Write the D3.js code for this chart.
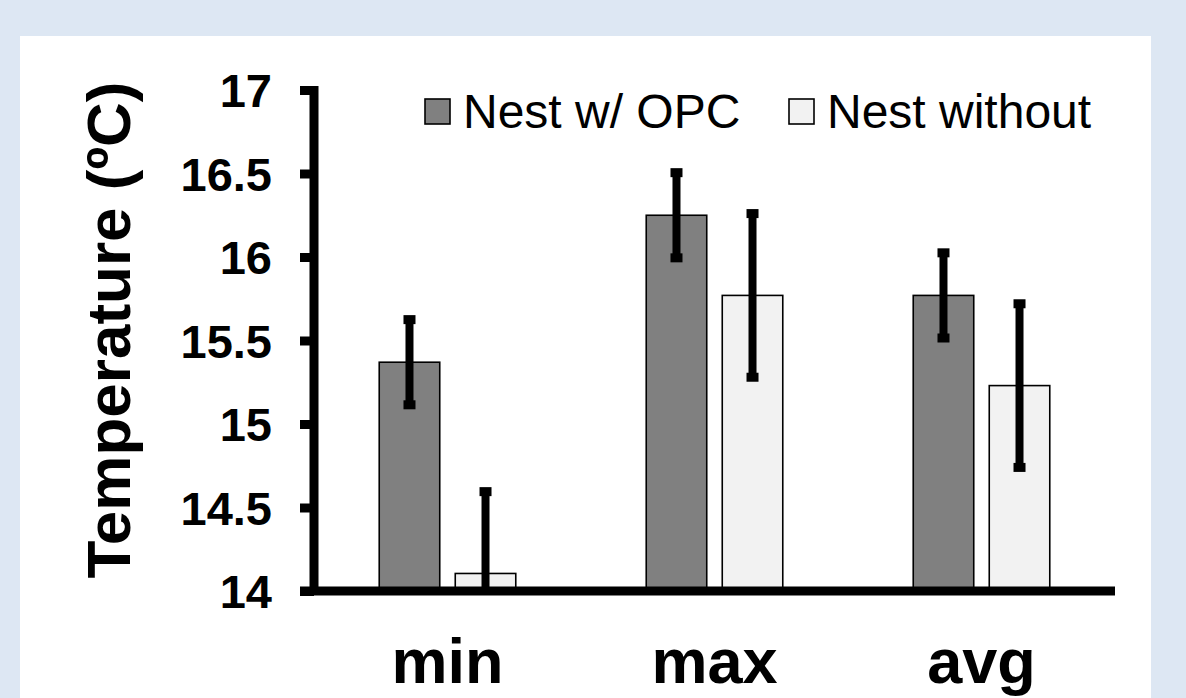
<!DOCTYPE html>
<html>
<head>
<meta charset="utf-8">
<script src="https://cdn.jsdelivr.net/npm/d3@7"></script>
<style>
  body { margin: 0; background: #dde7f3; }
  svg { display: block; font-family: "Liberation Sans", Arial, sans-serif; }
</style>
</head>
<body>
<svg id="chart" width="1186" height="698"></svg>
<script>
var categories = ['min', 'max', 'avg'];
var seriesNames = ['Nest w/ OPC', 'Nest without'];
var opcMeans = [15.37, 16.25, 15.77];
var opcErr = [0.255, 0.255, 0.255];
var withoutMeans = [14.105, 15.77, 15.23];
var withoutErr = [0.49, 0.49, 0.49];
var yTicks = [14, 14.5, 15, 15.5, 16, 16.5, 17];
var colors = ['#808080', '#f2f2f2'];

var svg = d3.select('#chart');

// white panel on the blue slide
svg.append('rect')
  .attr('x', 20).attr('y', 36)
  .attr('width', 1131).attr('height', 700)
  .attr('fill', '#fff');

var y = d3.scaleLinear().domain([14, 17]).range([591, 90]);
var x = d3.scaleBand().domain(categories).range([314, 1115]);
var xs = d3.scaleBand().domain(seriesNames).range([0, x.bandwidth()])
  .paddingInner(0.204).paddingOuter(0.858);

var data = [];
categories.forEach(function(c, i) {
  data.push({cat: c, s: seriesNames[0], v: opcMeans[i], e: opcErr[i], col: colors[0]});
  data.push({cat: c, s: seriesNames[1], v: withoutMeans[i], e: withoutErr[i], col: colors[1]});
});

svg.append('clipPath').attr('id', 'plot')
  .append('rect').attr('x', 300).attr('y', 0).attr('width', 820).attr('height', y(14));

// bars
svg.append('g').selectAll('rect').data(data).enter().append('rect')
  .attr('x', function(d) { return x(d.cat) + xs(d.s); })
  .attr('y', function(d) { return y(d.v); })
  .attr('width', xs.bandwidth())
  .attr('height', function(d) { return y(14) - y(d.v); })
  .attr('fill', function(d) { return d.col; })
  .attr('stroke', '#000')
  .attr('stroke-width', 1.6);

// error bars
var eg = svg.append('g').attr('clip-path', 'url(#plot)');
data.forEach(function(d) {
  var cx = x(d.cat) + xs(d.s) + xs.bandwidth() / 2;
  eg.append('line')
    .attr('x1', cx).attr('x2', cx)
    .attr('y1', y(d.v + d.e)).attr('y2', y(d.v - d.e))
    .attr('stroke', '#000').attr('stroke-width', 8);
  [d.v + d.e, d.v - d.e].forEach(function(v) {
    eg.append('rect')
      .attr('x', cx - 6).attr('y', y(v) - 4.5)
      .attr('width', 12).attr('height', 9)
      .attr('fill', '#000');
  });
});

// y axis
var yAxis = d3.axisLeft(y).tickValues(yTicks).tickSize(14).tickPadding(28)
  .tickFormat(d3.format('~g'));
var ya = svg.append('g').attr('transform', 'translate(314,0)').call(yAxis);
ya.select('.domain').remove();
ya.append('line').attr('x1', 0).attr('x2', 0).attr('y1', 86).attr('y2', y(14))
  .attr('stroke', '#000').attr('stroke-width', 9);
ya.selectAll('.tick line').attr('stroke', '#000').attr('stroke-width', 9);
ya.selectAll('.tick text')
  .attr('fill', '#000')
  .attr('font-size', 47).attr('font-weight', 'bold')
  .attr('font-family', '"Liberation Sans", Arial, sans-serif')
  .attr('dy', '0.36em');

// x axis
var xAxis = d3.axisBottom(x).tickSize(0).tickPadding(0);
var xa = svg.append('g').attr('transform', 'translate(0,' + y(14) + ')').call(xAxis);
xa.select('.domain').remove();
xa.append('line').attr('x1', 300).attr('x2', 1115).attr('y1', 0).attr('y2', 0)
  .attr('stroke', '#000').attr('stroke-width', 9);
xa.selectAll('.tick text')
  .attr('fill', '#000')
  .attr('font-size', 63).attr('font-weight', 'bold')
  .attr('font-family', '"Liberation Sans", Arial, sans-serif')
  .attr('dy', 0).attr('y', 92);

// y title
svg.append('text')
  .attr('transform', 'translate(130,330) rotate(-90)')
  .attr('text-anchor', 'middle')
  .attr('font-size', 62).attr('font-weight', 'bold')
  .text('Temperature (ºC)');

// legend
var legX = [425, 789];
var lg = svg.append('g').selectAll('g').data(seriesNames).enter().append('g')
  .attr('transform', function(d, i) { return 'translate(' + legX[i] + ',99)'; });
lg.append('rect').attr('width', 25).attr('height', 25)
  .attr('fill', function(d, i) { return colors[i]; })
  .attr('stroke', '#000').attr('stroke-width', 1.6);
lg.append('text').attr('x', 38).attr('y', 29)
  .attr('font-size', 48)
  .text(function(d) { return d; });
</script>
</body>
</html>
